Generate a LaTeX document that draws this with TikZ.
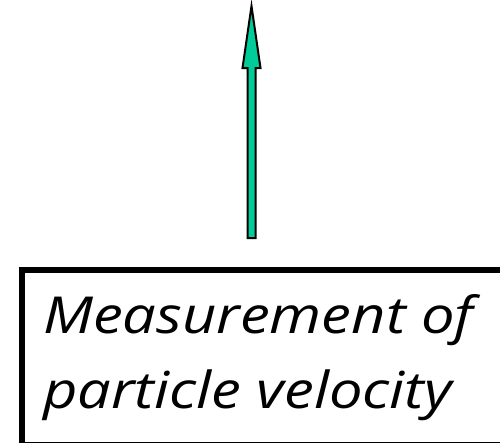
\documentclass[tikz,border=0pt]{standalone}
\usepackage{fontspec}
\newfontfamily\labelfont{Open Sans}[FakeStretch=1.17]
\usetikzlibrary{positioning}
\definecolor{arrowgreen}{RGB}{0,204,153}

\begin{document}
\begin{tikzpicture}[x=1pt, y=-1pt,
    blockarrow/.style={draw=black, line width=2pt, fill=arrowgreen, line join=miter},
    framebox/.style={draw=black, line width=6pt, rectangle, minimum width=503pt, minimum height=175pt, inner sep=0pt},
    boxtext/.style={font=\labelfont\itshape\fontsize{51}{75}\selectfont, align=left, inner sep=0pt}]
    \useasboundingbox (0,0) rectangle (500,442);
    \node[framebox, anchor=north west] (box) at (19,267) {};
    \node[boxtext, anchor=north west] (label) at (43,294) {Measurement of\\particle velocity};
    \coordinate (tail) at (251.5,238);
    \coordinate (tip) at (251.5,6);
    \draw[blockarrow] (tip) -- ++(9,62) -- ++(-5,0) |- (tail) -- ++(-4,0) -- ++(0,-170) -- ++(-5,0) -- cycle;
\end{tikzpicture}
\end{document}
